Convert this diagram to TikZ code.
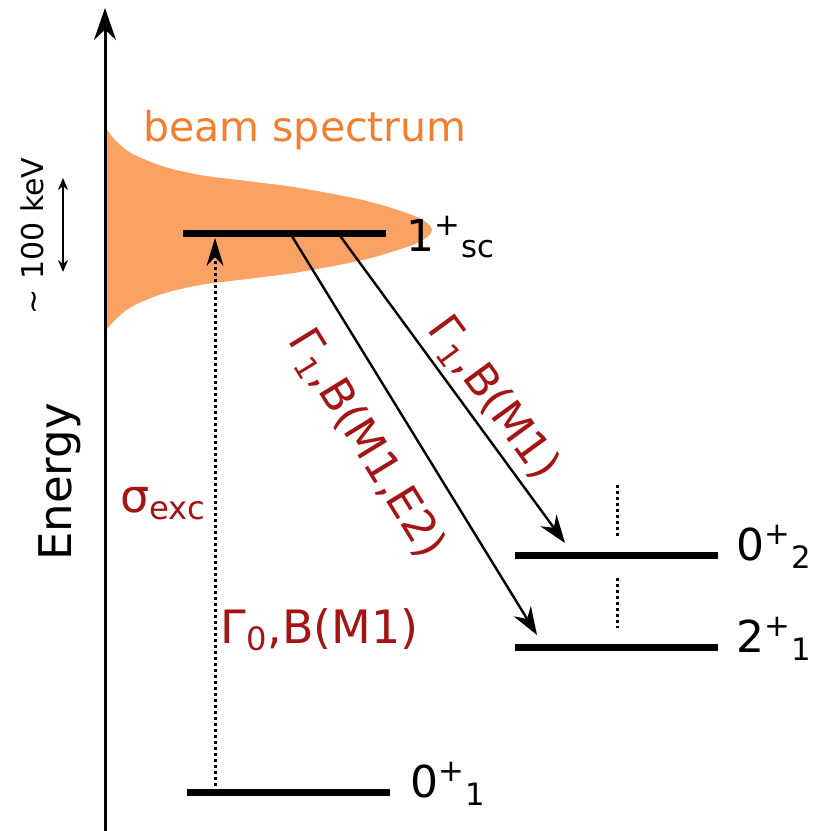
\documentclass[tikz,border=0pt]{standalone}
\usepackage{fontspec}
\setmainfont{DejaVu Sans}
\usepackage{tikz}
\usetikzlibrary{arrows.meta,positioning,calc}
\definecolor{beamfill}{RGB}{250,162,100}
\definecolor{beamtext}{RGB}{240,128,48}
\definecolor{darkred}{RGB}{165,20,20}

\begin{document}
\begin{tikzpicture}[x=0.5pt, y=-0.5pt,
  every node/.style={font=\fontsize{22}{26}\selectfont, inner sep=2pt},
  >={Stealth[length=14pt, width=10pt]},
  level/.style={line width=3.5pt},
  trans/.style={->, line width=1.2pt},
  redlab/.style={text=darkred, font=\fontsize{23}{27}\selectfont},
  dots/.style={line width=1.5pt, dash pattern=on 1.5pt off 1.5pt}]
\useasboundingbox (0,0) rectangle (819,831);
% beam profile
\fill[beamfill] plot[smooth] coordinates {(106,128) (115,140) (131,153) (162,166) (200,175) (255,182) (300,188) (367,201) (417,217) (432,230) (417,243) (367,259) (300,272) (255,278) (200,285) (162,294) (131,307) (115,320) (106,330)} -- cycle;
\node[text=beamtext, font=\fontsize{20.5}{24}\selectfont] (beam) at (305,130) {beam spectrum};
% energy axis
\coordinate (ax-b) at (105,831);
\coordinate (ax-t) at (105,8);
\draw[-{Stealth[length=16pt, width=11pt]}, line width=1.5pt] (ax-b) -- (ax-t);
\node[rotate=90, font=\fontsize{22.5}{26}\selectfont] (energy) at (60,482) {Energy};
\coordinate (kv-t) at (63,178);
\coordinate (kv-b) at (63,272);
\draw[<->, line width=0.8pt, >={Stealth[length=6pt, width=5pt]}] (kv-t) -- (kv-b);
\node[rotate=90, font=\fontsize{15}{18}\selectfont] (kev) at (32,236) {\textasciitilde{} 100 keV};
% levels
\coordinate (sc-w) at (183,233); \coordinate (sc-e) at (386,233);
\coordinate (gs-w) at (187,792); \coordinate (gs-e) at (390,792);
\coordinate (zt-w) at (515,555); \coordinate (zt-e) at (718,555);
\coordinate (to-w) at (515,647); \coordinate (to-e) at (718,647);
\draw[level] (sc-w) -- (sc-e);
\draw[level] (gs-w) -- (gs-e);
\draw[level] (zt-w) -- (zt-e);
\draw[level] (to-w) -- (to-e);
\node[anchor=base west] (sc-lab) at (402,251) {1\textsuperscript{+}\textsubscript{sc}};
\node[anchor=base west] (gs-lab) at (406,797) {0\textsuperscript{+}\textsubscript{1}};
\node[anchor=base west] (zt-lab) at (732,560) {0\textsuperscript{+}\textsubscript{2}};
\node[anchor=base west] (to-lab) at (732,652) {2\textsuperscript{+}\textsubscript{1}};
\coordinate (d1-t) at (617,485); \coordinate (d1-b) at (617,537);
\coordinate (d2-t) at (617,578); \coordinate (d2-b) at (617,628);
\draw[dots] (d1-t) -- (d1-b);
\draw[dots] (d2-t) -- (d2-b);
% excitation
\coordinate (ex-b) at (215,792);
\coordinate (ex-t) at (215,238);
\draw[dots, -{Stealth[length=14pt, width=8.5pt]}] (ex-b) -- (ex-t);
\node[redlab, anchor=base west] (sigma) at (116,512) {σ\textsubscript{exc}};
\node[redlab, anchor=base west] (g0) at (216,643) {Γ\textsubscript{0},B(M1)};
% decays
\coordinate (a1-s) at (290,233); \coordinate (a1-e) at (537,635);
\coordinate (a2-s) at (338,233); \coordinate (a2-e) at (565,543);
\draw[trans] (a1-s) -- node[redlab, font=\fontsize{22}{26}\selectfont, sloped, below=10pt, pos=0.465] (m1e2) {Γ\textsubscript{1},B(M1,E2)} (a1-e);
\draw[trans] (a2-s) -- node[redlab, font=\fontsize{22}{26}\selectfont, sloped, above=0.5pt, pos=0.585] (m1) {Γ\textsubscript{1},B(M1)} (a2-e);
\end{tikzpicture}
\end{document}
